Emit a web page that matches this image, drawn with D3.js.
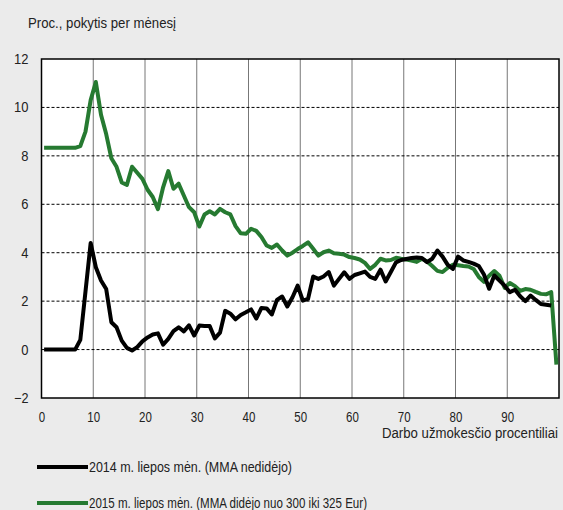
<!DOCTYPE html>
<html>
<head>
<meta charset="utf-8">
<script src="https://cdn.jsdelivr.net/npm/d3@7"></script>
<style>
  body { margin: 0; background: #ebebeb; }
  svg { display: block; font-family: "Liberation Sans", Arial, sans-serif; }
</style>
</head>
<body>
<div id="chart"></div>
<script>
// percentile positions (bin midpoints)
const pctGreen = [0.5,1.5,2.5,3.5,4.5,5.5,6.5,7.5,8.5,9.5,10.5,11.5,12.5,13.5,14.5,15.5,16.5,17.5,18.5,19.5,
  20.5,21.5,22.5,23.5,24.5,25.5,26.5,27.5,28.5,29.5,30.5,31.5,32.5,33.5,34.5,35.5,36.5,37.5,38.5,39.5,
  40.5,41.5,42.5,43.5,44.5,45.5,46.5,47.5,48.5,49.5,50.5,51.5,52.5,53.5,54.5,55.5,56.5,57.5,58.5,59.5,
  60.5,61.5,62.5,63.5,64.5,65.5,66.5,67.5,68.5,69.5,70.5,71.5,72.5,73.5,74.5,75.5,76.5,77.5,78.5,79.5,
  80.5,81.5,82.5,83.5,84.5,85.5,86.5,87.5,88.5,89.5,90.5,91.5,92.5,93.5,94.5,95.5,96.5,97.5,98.5,99.5];
const pctBlack = pctGreen.slice(0, 99);

const val2014 = [0,0,0,0,0,0,0,0.4,2.4,4.4,3.4,2.85,2.5,1.13,0.92,0.37,0.07,-0.04,0.1,0.34,
  0.5,0.62,0.67,0.2,0.44,0.76,0.92,0.75,1.0,0.58,0.99,0.97,0.97,0.46,0.7,1.6,1.48,1.25,1.43,1.54,
  1.66,1.28,1.72,1.7,1.45,2.05,2.19,1.78,2.16,2.64,2.02,2.09,3.02,2.92,3.02,3.2,2.64,2.92,3.19,2.92,
  3.08,3.15,3.22,3.0,2.92,3.3,2.81,3.2,3.6,3.7,3.74,3.78,3.8,3.78,3.61,3.75,4.09,3.84,3.5,3.33,
  3.84,3.68,3.62,3.55,3.45,3.1,2.51,3.06,2.85,2.64,2.37,2.47,2.2,2.0,2.23,2.05,1.88,1.85,1.82];

const val2015 = [8.33,8.33,8.33,8.33,8.33,8.33,8.33,8.4,9.0,10.3,11.05,9.7,8.9,7.9,7.55,6.9,6.8,7.55,7.3,7.05,
  6.6,6.3,5.8,6.7,7.37,6.64,6.85,6.36,5.88,5.67,5.08,5.58,5.71,5.58,5.81,5.67,5.58,5.1,4.8,4.78,
  4.99,4.9,4.65,4.3,4.2,4.34,4.09,3.88,4.0,4.15,4.28,4.43,4.16,3.88,4.02,4.09,3.98,3.96,3.92,3.82,
  3.78,3.72,3.58,3.33,3.5,3.75,3.68,3.7,3.79,3.75,3.72,3.68,3.62,3.75,3.64,3.45,3.25,3.2,3.38,3.5,
  3.48,3.45,3.43,3.33,3.0,2.8,3.05,3.24,3.05,2.55,2.75,2.62,2.42,2.5,2.47,2.38,2.3,2.28,2.37,-0.62];

const xTicks = [0,10,20,30,40,50,60,70,80,90];
const yTicks = [-2,0,2,4,6,8,10,12];

const seriesNames = ["2014 m. liepos mėn. (MMA nedidėjo)", "2015 m. liepos mėn. (MMA didėjo nuo 300 iki 325 Eur)"];
const seriesColors = ["#000000", "#267a31"];

const W = 563, H = 510;
const M = {top: 59, left: 41.5, right: 4, bottom: 112};

const svg = d3.select("#chart").append("svg")
  .attr("width", W).attr("height", H);

const x = d3.scaleLinear().domain([0, 100]).range([M.left, W - M.right]);
const y = d3.scaleLinear().domain([-2, 12]).range([H - M.bottom, M.top]);

// plot background
svg.append("rect")
  .attr("x", x(0)).attr("y", y(12))
  .attr("width", x(100) - x(0)).attr("height", y(-2) - y(12))
  .attr("fill", "#fff");

// grid: vertical lines, horizontal dashed
xTicks.filter(d => d > 0).forEach(d => {
  svg.append("line")
    .attr("x1", x(d)).attr("x2", x(d))
    .attr("y1", y(12)).attr("y2", y(-2))
    .attr("stroke", "#777").attr("stroke-width", 1);
});
svg.append("path")
  .attr("d", yTicks.filter(d => d > -2 && d < 12).map(d => `M${x(0)},${y(d)}H${x(100)}`).join(""))
  .attr("fill", "none")
  .attr("stroke", "#000").attr("stroke-width", 1).attr("stroke-dasharray", "3,2");

// frame
svg.append("rect")
  .attr("x", x(0)).attr("y", y(12))
  .attr("width", x(100) - x(0)).attr("height", y(-2) - y(12))
  .attr("fill", "none").attr("stroke", "#000").attr("stroke-width", 1.5);

// axes (labels only)
const yAxis = svg.append("g")
  .attr("transform", `translate(${x(0)},0)`)
  .call(d3.axisLeft(y).tickValues(yTicks).tickSize(0).tickPadding(13));
const xAxis = svg.append("g")
  .attr("transform", `translate(0,${y(-2)})`)
  .call(d3.axisBottom(x).tickValues(xTicks).tickSize(0).tickPadding(14));
[yAxis, xAxis].forEach(g => {
  g.select(".domain").remove();
  g.selectAll("text").attr("font-size", 14).attr("fill", "#222")
    .style("font-family", "'Liberation Sans', Arial, sans-serif");
});
xAxis.selectAll("text").attr("textLength", function () { return this.textContent.length * 6.4; })
  .attr("lengthAdjust", "spacingAndGlyphs");
yAxis.selectAll("text").attr("textLength", function () { return this.textContent.length * 7.2; })
  .attr("lengthAdjust", "spacingAndGlyphs");

// lines
const line = d3.line().x(d => x(d[0])).y(d => y(d[1]));
const data2014 = pctBlack.map((p, i) => [p, val2014[i]]);
const data2015 = pctGreen.map((p, i) => [p, val2015[i]]);

svg.append("path").datum(data2015)
  .attr("d", line).attr("fill", "none")
  .attr("stroke", seriesColors[1]).attr("stroke-width", 4)
  .attr("stroke-linejoin", "round");
svg.append("path").datum(data2014)
  .attr("d", line).attr("fill", "none")
  .attr("stroke", seriesColors[0]).attr("stroke-width", 4)
  .attr("stroke-linejoin", "round");

// titles
svg.append("text")
  .attr("x", 28).attr("y", 28)
  .attr("font-size", 14).attr("fill", "#222")
  .attr("textLength", 148).attr("lengthAdjust", "spacingAndGlyphs")
  .text("Proc., pokytis per mėnesį");

svg.append("text")
  .attr("x", 382).attr("y", 438)
  .attr("font-size", 14).attr("fill", "#222")
  .attr("textLength", 176).attr("lengthAdjust", "spacingAndGlyphs")
  .text("Darbo užmokesčio procentiliai");

// legend
const legend = svg.append("g");
const legY = [467, 503];
const legW = [203, 278];
seriesNames.forEach((name, i) => {
  legend.append("line")
    .attr("x1", 37).attr("x2", 88)
    .attr("y1", legY[i]).attr("y2", legY[i])
    .attr("stroke", seriesColors[i]).attr("stroke-width", 4);
  legend.append("text")
    .attr("x", 89).attr("y", legY[i] + 5)
    .attr("font-size", 14).attr("fill", "#222")
    .attr("textLength", legW[i]).attr("lengthAdjust", "spacingAndGlyphs")
    .text(name);
});
</script>
</body>
</html>
